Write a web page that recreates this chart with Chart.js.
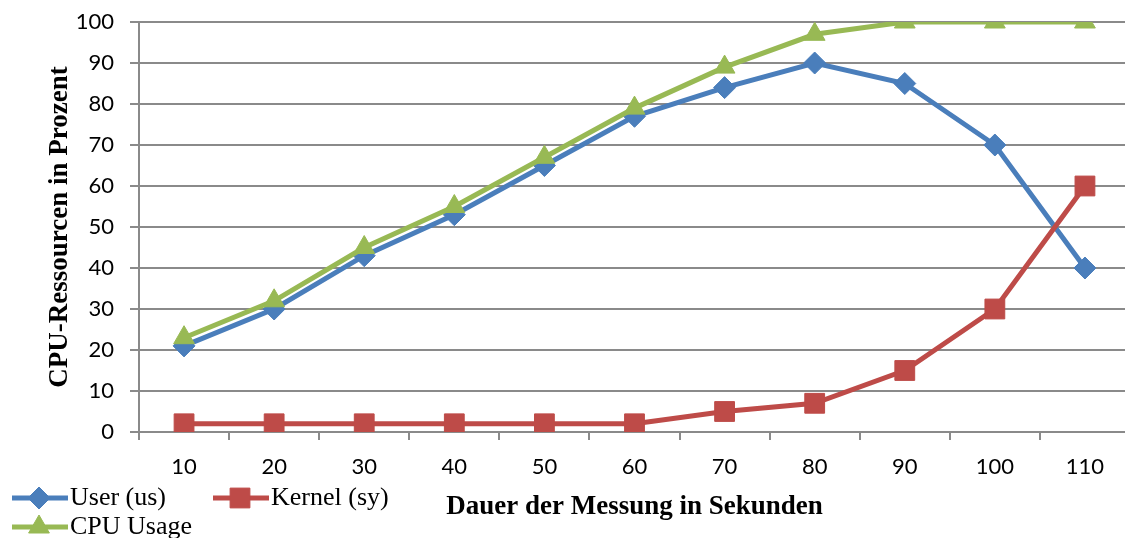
<!DOCTYPE html>
<html>
<head>
<meta charset="utf-8">
<script src="https://cdn.jsdelivr.net/npm/chart.js@4"></script>
<style>
  html, body { margin: 0; padding: 0; background: #fff; overflow: hidden; }
  #wrap { width: 1145px; height: 538px; }
</style>
</head>
<body>
<div id="wrap"><canvas id="cpuChart"></canvas></div>
<script>
const seconds = ["10", "20", "30", "40", "50", "60", "70", "80", "90", "100", "110"];
const userUs = [21, 30, 43, 53, 65, 77, 84, 90, 85, 70, 40];
const kernelSy = [2, 2, 2, 2, 2, 2, 5, 7, 15, 30, 60];
const cpuUsage = [23, 32, 45, 55, 67, 79, 89, 97, 100, 100, 100];

const gridGrey = "#8a8a8a";
const serif = "'Liberation Serif', 'Times New Roman', serif";
const sans = "Lato, 'Open Sans', sans-serif";

// legend drawn by hand under the axis: two entries on the first row, one on the second
const handLegend = {
    id: "handLegend",
    afterDraw(chart) {
        const ctx = chart.ctx;
        const slots = [{ x: 12, y: 498 }, { x: 213, y: 498 }, { x: 12, y: 527 }];
        chart.data.datasets.forEach((ds, i) => {
            const s = slots[i];
            ctx.save();
            ctx.strokeStyle = ds.borderColor;
            ctx.lineWidth = ds.borderWidth;
            ctx.beginPath();
            ctx.moveTo(s.x, s.y);
            ctx.lineTo(s.x + 56, s.y);
            ctx.stroke();
            ctx.fillStyle = ds.pointBackgroundColor;
            ctx.strokeStyle = ds.pointBackgroundColor;
            ctx.lineWidth = 1;
            Chart.helpers.drawPoint(ctx, { pointStyle: ds.pointStyle, radius: ds.pointRadius, borderWidth: 1 }, s.x + 27, s.y);
            ctx.fillStyle = "#000";
            ctx.font = "26px " + serif;
            ctx.textBaseline = "middle";
            ctx.fillText(ds.label, s.x + 58, s.y);
            ctx.restore();
        });
    }
};

function series(label, values, color, style, radius, order) {
    return {
        label: label,
        data: values,
        borderColor: color,
        backgroundColor: color,
        borderWidth: 5,
        pointStyle: style,
        pointRadius: radius,
        pointHoverRadius: radius,
        pointBackgroundColor: color,
        pointBorderColor: color,
        pointBorderWidth: 1,
        tension: 0,
        order: order
    };
}

new Chart(document.getElementById("cpuChart"), {
    type: "line",
    data: {
        labels: seconds,
        datasets: [
            series("User (us)", userUs, "#4a7ebb", "rectRot", 11, 3),
            series("Kernel (sy)", kernelSy, "#be4b48", "rect", 14, 2),
            series("CPU Usage", cpuUsage, "#98b954", "triangle", 12, 1)
        ]
    },
    options: {
        responsive: true,
        maintainAspectRatio: false,
        animation: false,
        layout: { padding: { top: 22, left: 0, right: 0, bottom: 0 } },
        plugins: { legend: { display: false }, tooltip: { enabled: false } },
        scales: {
            x: {
                offset: true,
                grid: { offset: true, drawOnChartArea: false, drawTicks: true, tickLength: 8, color: gridGrey, lineWidth: 2 },
                border: { color: gridGrey, width: 2 },
                ticks: { color: "#000", font: { family: sans, size: 22 }, padding: 14, maxRotation: 0 },
                title: {
                    display: true,
                    text: "Dauer der Messung in Sekunden",
                    color: "#000",
                    font: { family: serif, size: 27, weight: "bold" },
                    padding: { top: 0, bottom: 15 }
                },
                afterFit(scale) { scale.height = 106; }
            },
            y: {
                min: 0,
                max: 100,
                ticks: { stepSize: 10, color: "#000", font: { family: sans, size: 22 }, padding: 16 },
                grid: { color: gridGrey, lineWidth: 2, tickLength: 9 },
                border: { color: gridGrey, width: 2 },
                title: {
                    display: true,
                    text: "CPU-Ressourcen in Prozent",
                    color: "#000",
                    font: { family: serif, size: 27, weight: "bold" },
                    padding: { top: 44, bottom: 0 }
                },
                afterFit(scale) {
                    scale.width = 139;
                    scale.paddingTop = 0;
                    scale.paddingBottom = 0;
                }
            }
        }
    },
    plugins: [handLegend]
});
</script>
</body>
</html>
